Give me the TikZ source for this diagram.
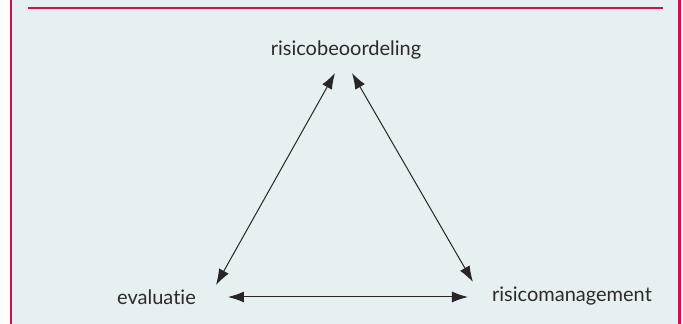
\documentclass[tikz,border=0pt]{standalone}
\usepackage{fontspec}
\setmainfont[Ligatures={NoCommon,NoContextual},Contextuals=NoAlternate]{Lato}
\usepackage{tikz}
\usetikzlibrary{arrows.meta}
\definecolor{kader}{RGB}{208,16,76}
\definecolor{achtergrond}{RGB}{230,239,242}
\definecolor{tekst}{RGB}{43,43,43}

\begin{document}
\begin{tikzpicture}[x=1pt,y=1pt,
                        begrip/.style={inner sep=0pt,text=tekst,font=\fontsize{20}{24}\selectfont},
                        pijl/.style={line width=1pt,black!85,{Latex[length=16pt,width=11pt]}-{Latex[length=16pt,width=11pt]}}
                        ]
                        \useasboundingbox (0,0) rectangle (683,324);
                        % draw frame
                        \fill[achtergrond] (12,0) rectangle (678,324);
                        \draw[kader,line width=2.5pt] (11,0) -- (11,324);
                        \draw[kader,line width=2.5pt] (679.5,0) -- (679.5,324);
                        \draw[kader,line width=1.3pt] (28,316) -- (663,316);

                        \node[begrip,anchor=base] (beoordeling) at (346,268) {risicobeoordeling};
                        \node[begrip,anchor=base] (evaluatie) at (156.5,19) {evaluatie};
                        \node[begrip,anchor=base] (management) at (572,22) {risicomanagement};

                        \draw[pijl] ([shift={(20,20)}]evaluatie.base east) -- ([shift={(-11,-17)}]beoordeling.base);
                        \draw[pijl] ([shift={(6,-17)}]beoordeling.base) -- ([shift={(-19,20)}]management.base west);
                        \draw[pijl] ([shift={(32,8)}]evaluatie.base east) -- ([shift={(-24,5)}]management.base west);
                \end{tikzpicture}
\end{document}
